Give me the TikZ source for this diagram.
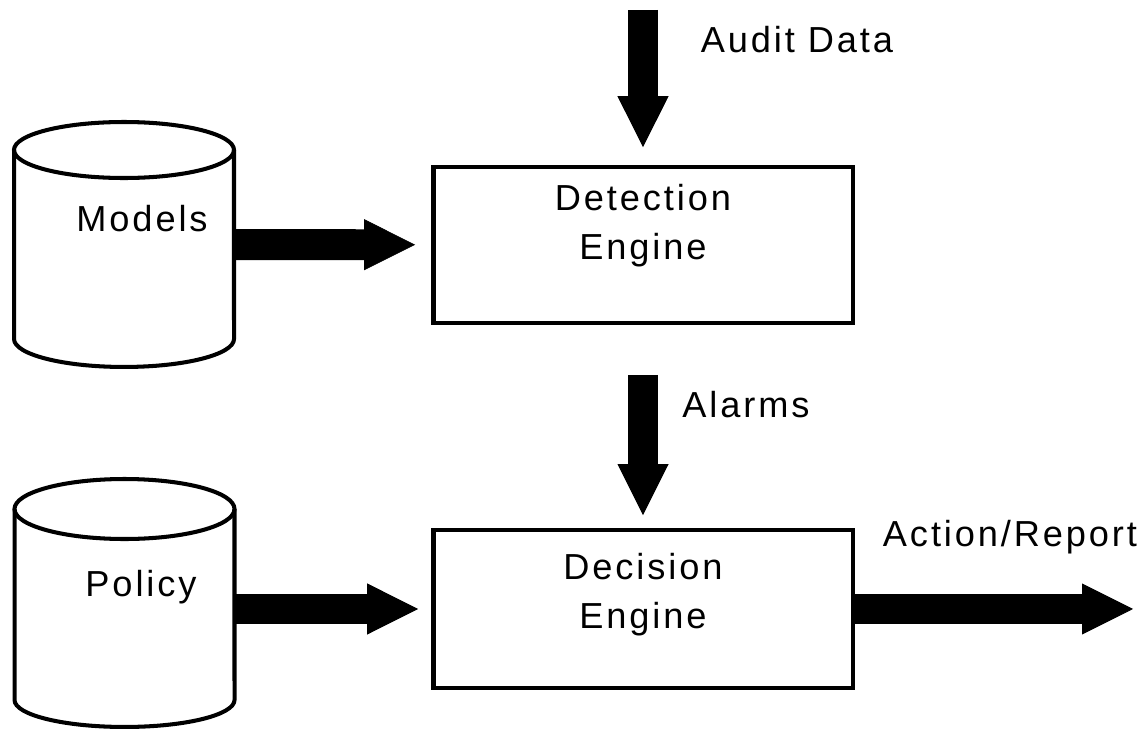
\documentclass[tikz,border=0pt]{standalone}
\usepackage{fontspec}
\setmainfont{Liberation Sans}[LetterSpace=8]
\usetikzlibrary{arrows.meta}

\begin{document}
\begin{tikzpicture}[x=0.02cm, y=0.02cm,
  every node/.style={font=\fontsize{20.6pt}{27.8pt}\selectfont, inner sep=0pt, outer sep=0pt},
  engine/.style={draw, line width=2.8pt, minimum width=8.4cm},
  store/.style={minimum width=4.4cm},
  storeline/.style={line width=2.3pt},
  flow/.style={line width=17.6pt, -{Triangle[width=29pt, length=29pt, line width=0.4pt]}}]
  \useasboundingbox (0,0) rectangle (1146,732);

  \node[engine, minimum height=3.12cm] (detect) at (643, 487) {};
  \node[engine, minimum height=3.16cm] (decide) at (643, 123) {};
  \node[store, minimum height=3.78cm] (models) at (124, 487.5) {};
  \node[store, minimum height=3.82cm] (policy) at (124.5, 127.5) {};
  \coordinate (audit) at (643, 722);
  \coordinate (out) at (1133, 123);

  % Cylinders
  \draw[storeline] (models.north west) -- (models.south west)
    arc[start angle=180, end angle=360, x radius=110, y radius=28] -- (models.north east);
  \draw[storeline] (models.north) ellipse[x radius=110, y radius=28];
  \draw[storeline] (policy.north west) -- (policy.south west)
    arc[start angle=180, end angle=360, x radius=110, y radius=27] -- (policy.north east);
  \draw[storeline] (policy.north) ellipse[x radius=110, y radius=30];

  % Labels
  \node[align=center] at (643, 506) {Detection\\Engine};
  \node[align=center] at (643, 137.5) {Decision\\Engine};
  \node[anchor=base] at (142, 500) {Models};
  \node[anchor=base] at (141, 135) {Policy};
  \node[anchor=base] at (797, 679) {Audit Data};
  \node[anchor=base] at (746, 314) {Alarms};
  \node[anchor=base] at (1010, 185) {Action/Report};

  % Block arrows
  \draw[flow, shorten >=11.3pt] (audit) -- (detect);
  \draw[flow, shorten >=10.2pt] (models) -- (detect);
  \draw[flow, shorten <=29.5pt, shorten >=8.5pt] (detect) -- (decide);
  \draw[flow, shorten >=8.5pt] (policy.east |- decide) -- (decide);
  \draw[flow] (decide) -- (out);
\end{tikzpicture}
\end{document}
